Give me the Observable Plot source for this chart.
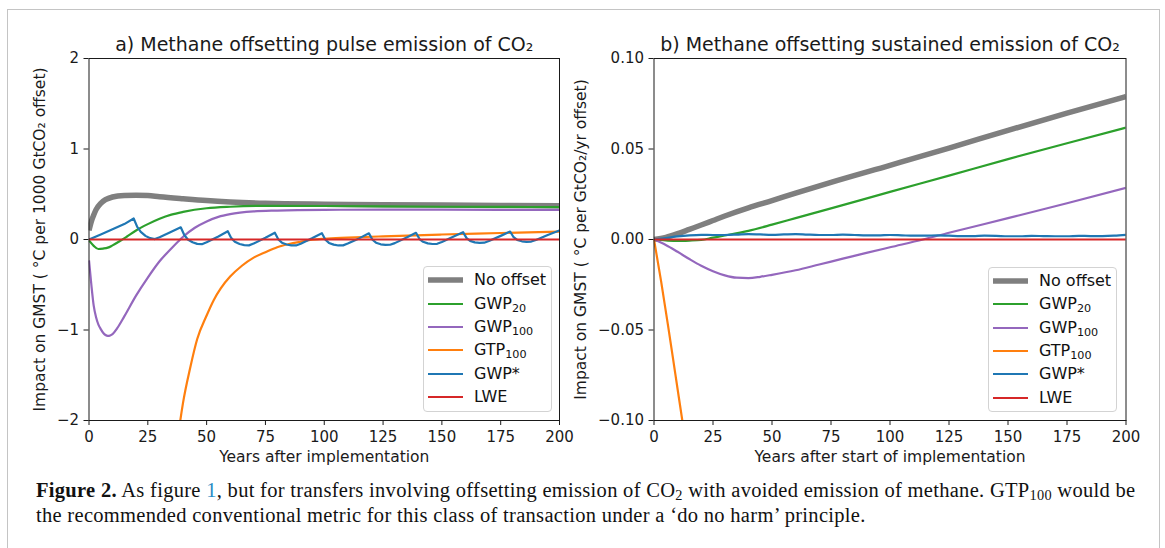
<!DOCTYPE html>
<html><head><meta charset="utf-8">
<script src="https://cdn.jsdelivr.net/npm/d3@7"></script>
<script src="https://cdn.jsdelivr.net/npm/@observablehq/plot@0.6"></script>
<style>
html,body{margin:0;padding:0;background:#fff;}
body{width:1165px;height:548px;overflow:hidden;position:relative;font-family:"DejaVu Sans";}
#frame{position:absolute;left:7px;top:9px;width:1151px;height:600px;border:1.5px solid #c4c4c4;}
.panel{position:absolute;top:0;}
.panel svg{overflow:visible;background:transparent;}
.legend{position:absolute;box-sizing:border-box;border:1px solid #d3d3d3;border-radius:4px;background:rgba(255,255,255,0.8);font-family:"DejaVu Sans";font-size:16px;color:#111;}
.row{position:absolute;height:20px;line-height:20px;white-space:nowrap;}
.sw{position:absolute;}
.sub{font-size:0.7em;position:relative;top:0.28em;}
.caption{position:absolute;left:36px;top:478px;font-family:"Liberation Serif";font-size:20.5px;letter-spacing:0.3px;line-height:25px;color:#111;white-space:nowrap;}
.caption sub{font-size:0.7em;vertical-align:-0.2em;line-height:0;}
</style></head><body>
<div id="frame"></div>
<div id="pa" class="panel" style="left:0px"></div>
<div id="pb" class="panel" style="left:565px"></div>
<div id="caption" class="caption"><b>Figure 2.</b> As figure <span style="color:#2b8cc4">1</span>, but for transfers involving offsetting emission of CO<sub>2</sub> with avoided emission of methane. GTP<sub>100</sub> would be<br>the recommended conventional metric for this class of transaction under a ‘do no harm’ principle.</div>
<script>
// ---------- shared ----------
const X_TICKS = [0, 25, 50, 75, 100, 125, 150, 175, 200];
const A_Y_TICKS = [-2, -1, 0, 1, 2];
const B_Y_TICKS = [-0.10, -0.05, 0, 0.05, 0.10];
const SERIES_COLORS = ["#7f7f7f", "#2ca02c", "#9467bd", "#ff7f0e", "#1f77b4", "#d62728"];
const SERIES_WIDTHS = [5.5, 2.2, 2.2, 2.2, 2.2, 2.2];
const LEGEND_MAIN = ["No offset", "GWP", "GWP", "GTP", "GWP*", "LWE"];
const LEGEND_SUB = ["", "20", "100", "100", "", ""];

// ---------- panel a: pulse emission of CO2 ----------
const A_NOOFF_T = [0, 1, 2, 3, 5, 7, 10, 15, 20, 25, 30, 40, 50, 60, 75, 100, 125, 150, 175, 200];
const A_NOOFF   = [0.1, 0.2, 0.27, 0.33, 0.40, 0.44, 0.47, 0.487, 0.49, 0.485, 0.472, 0.45, 0.43, 0.415, 0.40, 0.39, 0.385, 0.38, 0.375, 0.372];
const A_GWP20_T = [0, 2, 4, 6, 8, 10, 13, 16, 20, 25, 30, 35, 40, 50, 60, 75, 100, 125, 150, 175, 200];
const A_GWP20   = [-0.01, -0.07, -0.105, -0.1, -0.09, -0.065, -0.02, 0.03, 0.1, 0.17, 0.23, 0.275, 0.305, 0.345, 0.362, 0.372, 0.37, 0.365, 0.362, 0.36, 0.358];
const A_GWP100_T = [0, 1, 2, 3, 4, 5, 6, 7, 8, 9, 10, 12, 15, 20, 25, 30, 35, 38, 40, 45, 50, 55, 60, 70, 80, 100, 125, 150, 175, 200];
const A_GWP100   = [-0.23, -0.5, -0.73, -0.86, -0.94, -0.99, -1.03, -1.055, -1.065, -1.06, -1.045, -0.98, -0.85, -0.62, -0.42, -0.24, -0.1, -0.02, 0.03, 0.13, 0.2, 0.25, 0.28, 0.31, 0.32, 0.328, 0.33, 0.33, 0.328, 0.327];
const A_GTP100_T = [30, 35, 38, 40, 43, 46, 50, 53, 56, 60, 65, 70, 75, 80, 85, 90, 95, 100, 110, 125, 150, 175, 200];
const A_GTP100   = [-4.1, -2.8, -2.15, -1.8, -1.42, -1.1, -0.84, -0.67, -0.54, -0.41, -0.29, -0.2, -0.14, -0.085, -0.05, -0.025, -0.003, 0.008, 0.02, 0.035, 0.055, 0.072, 0.088];
const A_GWPSTAR_T = [0, 5, 10, 15, 19, 20.5, 22, 24, 26, 28, 30, 35, 39, 40.5, 42, 44, 46, 48, 50, 55, 59, 60.5, 62, 64, 66, 68, 70, 75, 79, 80.5, 82, 84, 86, 88, 90, 95, 99, 100.5, 102, 104, 106, 108, 110, 115, 119, 120.5, 122, 124, 126, 128, 130, 135, 139, 140.5, 142, 144, 146, 148, 150, 155, 159, 160.5, 162, 164, 166, 168, 170, 175, 179, 180.5, 182, 184, 186, 188, 190, 195, 200];
const A_GWPSTAR   = [0, 0.055, 0.112, 0.17, 0.232, 0.14, 0.085, 0.04, 0.015, 0.005, 0.025, 0.085, 0.135, 0.05, 0.0, -0.03, -0.048, -0.052, -0.03, 0.034, 0.092, 0.015, -0.025, -0.05, -0.062, -0.065, -0.045, 0.019, 0.075, 0.0, -0.035, -0.055, -0.065, -0.066, -0.046, 0.016, 0.07, -0.003, -0.038, -0.057, -0.066, -0.065, -0.045, 0.015, 0.068, -0.003, -0.035, -0.053, -0.06, -0.058, -0.04, 0.022, 0.074, 0.005, -0.025, -0.043, -0.05, -0.048, -0.028, 0.032, 0.081, 0.015, -0.015, -0.032, -0.038, -0.035, -0.017, 0.04, 0.088, 0.025, -0.005, -0.02, -0.026, -0.023, -0.005, 0.05, 0.1];
const A_LWE_T = [0, 200];
const A_LWE   = [0, 0];

// ---------- panel b: sustained emission of CO2 ----------
const B_NOOFF_T = [0, 5, 10, 15, 20, 25, 30, 40, 50, 60, 75, 100, 125, 150, 175, 200];
const B_NOOFF   = [0, 0.0012, 0.0032, 0.0056, 0.008, 0.0105, 0.013, 0.0175, 0.0215, 0.0256, 0.0316, 0.041, 0.0505, 0.0603, 0.0698, 0.079];
const B_GWP20_T = [0, 5, 10, 15, 20, 25, 30, 40, 50, 60, 75, 100, 125, 150, 175, 200];
const B_GWP20   = [0, -0.0005, -0.0008, -0.0006, -0.0002, 0.001, 0.0022, 0.0048, 0.0082, 0.0118, 0.0172, 0.0263, 0.0353, 0.0444, 0.0532, 0.0618];
const B_GWP100_T = [0, 5, 10, 15, 20, 25, 30, 35, 40, 45, 50, 60, 70, 80, 90, 100, 114, 125, 150, 175, 200];
const B_GWP100   = [0, -0.003, -0.0068, -0.0108, -0.0145, -0.0175, -0.0198, -0.0211, -0.0213, -0.0206, -0.0195, -0.017, -0.0138, -0.0106, -0.0074, -0.0043, 0, 0.0037, 0.0118, 0.02, 0.0285];
const B_GTP100_T = [0, 3, 6, 9, 12, 15];
const B_GTP100   = [0, -0.023, -0.048, -0.074, -0.1, -0.126];
const B_GWPSTAR_T = [0, 5, 10, 15, 20, 25, 30, 35, 40, 45, 50, 55, 60, 65, 70, 75, 80, 85, 90, 95, 100, 105, 110, 115, 120, 125, 130, 135, 140, 145, 150, 155, 160, 165, 170, 175, 180, 185, 190, 195, 200];
const B_GWPSTAR   = [0, 0.0008, 0.0017, 0.0023, 0.0026, 0.0025, 0.0025, 0.0027, 0.003, 0.0028, 0.0026, 0.0028, 0.003, 0.0027, 0.0025, 0.0025, 0.0027, 0.0025, 0.0023, 0.0023, 0.0025, 0.0023, 0.0021, 0.0021, 0.0023, 0.0021, 0.0019, 0.0019, 0.0021, 0.002, 0.0018, 0.0018, 0.002, 0.0019, 0.0018, 0.0018, 0.002, 0.0019, 0.0019, 0.0021, 0.0026];
const B_LWE_T = [0, 200];
const B_LWE   = [0, 0];

const rows = (ts, vs) => ts.map((t, i) => ({t, v: vs[i]}));
const CURVES_A = ["monotone-x", "monotone-x", "monotone-x", "monotone-x", "linear", "linear"];
const CURVES_B = ["monotone-x", "monotone-x", "monotone-x", "monotone-x", "monotone-x", "linear"];

function makePanel({series, curves, yDomain, yTicks, yFormat, title, xLabel, yLabel, width, marginRight, yLabelDx}) {
  const marks = series.map((s, i) => Plot.line(s, {
    x: "t", y: "v", stroke: SERIES_COLORS[i], strokeWidth: SERIES_WIDTHS[i],
    curve: curves[i], clip: true, strokeLinejoin: "round", strokeLinecap: "butt"
  }));
  marks.push(Plot.frame({stroke: "#1a1a1a", strokeWidth: 1}));
  marks.push(Plot.axisX({ticks: X_TICKS, tickSize: 5, tickPadding: 6, label: null, fontSize: 15}));
  marks.push(Plot.axisY({ticks: yTicks, tickSize: 5, tickPadding: 5, tickFormat: yFormat, label: null, fontSize: 15}));
  marks.push(Plot.text([title], {text: d => d, frameAnchor: "top", lineAnchor: "bottom", dy: -8, fontSize: 19}));
  marks.push(Plot.text([xLabel], {text: d => d, frameAnchor: "bottom", lineAnchor: "bottom", dy: 41.5, fontSize: 15.5}));
  marks.push(Plot.text([yLabel], {text: d => d, frameAnchor: "left", textAnchor: "middle", lineAnchor: "middle", rotate: -90, dx: yLabelDx, fontSize: 15.5}));
  return Plot.plot({
    width, height: 480,
    marginLeft: 88.5, marginRight, marginTop: 58, marginBottom: 60,
    x: {domain: [0, 200]},
    y: {domain: yDomain},
    style: {fontFamily: "DejaVu Sans", fontSize: "15px", color: "#1a1a1a", background: "transparent", overflow: "visible"},
    marks
  });
}

const panelA = makePanel({
  series: [rows(A_NOOFF_T, A_NOOFF), rows(A_GWP20_T, A_GWP20), rows(A_GWP100_T, A_GWP100), rows(A_GTP100_T, A_GTP100), rows(A_GWPSTAR_T, A_GWPSTAR), rows(A_LWE_T, A_LWE)],
  curves: CURVES_A, yDomain: [-2, 2], yTicks: A_Y_TICKS, yFormat: "d",
  title: "a) Methane offsetting pulse emission of CO₂",
  xLabel: "Years after implementation",
  yLabel: "Impact on GMST ( °C per 1000 GtCO₂ offset)",
  width: 580, marginRight: 21, yLabelDx: -48.5
});
const panelB = makePanel({
  series: [rows(B_NOOFF_T, B_NOOFF), rows(B_GWP20_T, B_GWP20), rows(B_GWP100_T, B_GWP100), rows(B_GTP100_T, B_GTP100), rows(B_GWPSTAR_T, B_GWPSTAR), rows(B_LWE_T, B_LWE)],
  curves: CURVES_B, yDomain: [-0.10, 0.10], yTicks: B_Y_TICKS, yFormat: ".2f",
  title: "b) Methane offsetting sustained emission of CO₂",
  xLabel: "Years after start of implementation",
  yLabel: "Impact on GMST ( °C per GtCO₂/yr offset)",
  width: 600, marginRight: 39.5, yLabelDx: -72.5
});
document.getElementById("pa").appendChild(panelA);
document.getElementById("pb").appendChild(panelB);

function makeLegend(left, top, width, height) {
  const box = document.createElement("div");
  box.className = "legend";
  Object.assign(box.style, {left: left + "px", top: top + "px", width: width + "px", height: height + "px"});
  LEGEND_MAIN.forEach((name, i) => {
    const cy = 13.3 + i * 23.35;
    const sw = document.createElementNS("http://www.w3.org/2000/svg", "svg");
    sw.setAttribute("class", "sw");
    sw.setAttribute("width", 35); sw.setAttribute("height", 10);
    sw.style.left = "4px"; sw.style.top = (cy - 5) + "px";
    const ln = document.createElementNS("http://www.w3.org/2000/svg", "line");
    ln.setAttribute("x1", 0); ln.setAttribute("x2", 35); ln.setAttribute("y1", 5); ln.setAttribute("y2", 5);
    ln.setAttribute("stroke", SERIES_COLORS[i]); ln.setAttribute("stroke-width", SERIES_WIDTHS[i]);
    sw.appendChild(ln);
    box.appendChild(sw);
    const row = document.createElement("div");
    row.className = "row";
    row.style.left = "50px"; row.style.top = (cy - 10) + "px";
    row.textContent = name;
    if (LEGEND_SUB[i]) {
      const s = document.createElement("span");
      s.className = "sub"; s.textContent = LEGEND_SUB[i];
      row.appendChild(s);
    }
    box.appendChild(row);
  });
  document.body.appendChild(box);
}
makeLegend(423, 266, 129, 146);
makeLegend(988, 266.5, 129, 145.5);
</script>
</body></html>
